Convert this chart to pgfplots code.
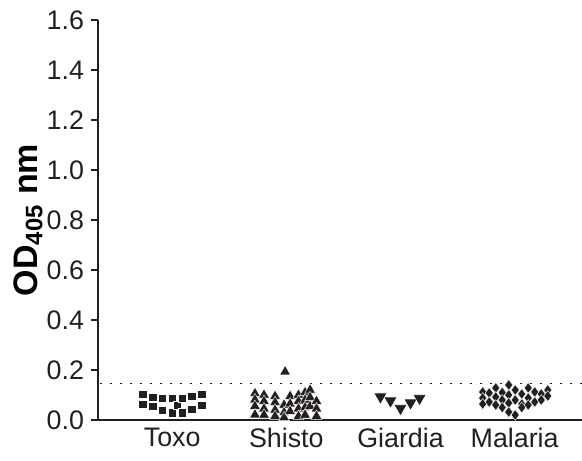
\documentclass[border=0pt]{standalone}
\usepackage{pgfplots}
\pgfplotsset{compat=1.18}
\usepackage{fontspec}
\setmainfont{Liberation Sans}
\definecolor{ink}{HTML}{231F20}

\pgfplotstableread{
x y
0.74 0.104
0.74 0.064
0.83 0.092
0.83 0.056
0.914 0.088
0.914 0.040
1.0 0.088
1.0 0.030
1.043 0.060
1.086 0.088
1.086 0.030
1.17 0.096
1.17 0.044
1.26 0.104
1.26 0.060
}\toxo

\pgfplotstableread{
x y
1.725 0.106
1.725 0.081
1.725 0.055
1.725 0.021
1.804 0.100
1.804 0.075
1.804 0.045
1.804 0.020
1.901 0.095
1.901 0.070
1.901 0.040
1.901 0.015
1.980 0.060
1.980 0.030
1.980 0.010
2.033 0.095
2.033 0.065
2.033 0.035
2.106 0.100
2.106 0.075
2.106 0.045
2.106 0.015
2.164 0.110
2.164 0.080
2.164 0.050
2.164 0.020
2.208 0.120
2.208 0.090
2.208 0.055
2.264 0.075
2.264 0.045
2.264 0.015
1.989 0.193
}\shisto

\pgfplotstableread{
x y
2.824 0.093
2.912 0.077
3.000 0.047
3.088 0.069
3.167 0.087
}\giardia

\pgfplotstableread{
x y
3.720 0.112
3.720 0.088
3.720 0.064
3.777 0.108
3.777 0.072
3.834 0.128
3.834 0.092
3.834 0.060
3.891 0.110
3.891 0.080
3.891 0.050
3.948 0.140
3.948 0.100
3.948 0.068
3.948 0.032
4.005 0.120
4.005 0.080
4.005 0.020
4.062 0.104
4.062 0.064
4.062 0.050
4.119 0.128
4.119 0.088
4.119 0.060
4.176 0.112
4.176 0.072
4.233 0.104
4.233 0.080
4.290 0.120
4.290 0.096
}\malaria

\begin{document}
\begin{tikzpicture}
\path[use as bounding box] (-49pt,-20pt) rectangle (242pt,210pt);
\begin{axis}[
  at={(0,0)}, anchor=south west,
  scale only axis, width=242pt, height=200pt,
  xmin=0.35, xmax=4.59, ymin=0, ymax=1.6,
  axis x line=bottom, axis y line=left,
  axis line style={-, line width=1pt, ink},
  xtick={1,2,3,4}, xticklabels={Toxo,Shisto,Giardia,Malaria},
  x tick style={draw=none},
  ytick={0,0.2,0.4,0.6,0.8,1.0,1.2,1.4,1.6},
  y tick style={line width=0.8pt, ink},
  tick align=outside, major tick length=3.5pt,
  yticklabel style={/pgf/number format/fixed, /pgf/number format/fixed zerofill, /pgf/number format/precision=1},
  /pgf/number format/assume math mode=true,
  tick label style={font=\fontsize{13.4}{15}\selectfont, text=ink},
  xticklabel style={yshift=3pt},
  every axis y label/.style={at={(axis description cs:0,0.5)}, xshift=-35pt, rotate=90, anchor=center},
  ylabel={\fontsize{17}{20}\selectfont\bfseries OD\textsubscript{405} nm},
  clip=false,
]
\addplot[ink, line width=0.8pt, dash pattern=on 0.8pt off 4.2pt] coordinates {(0.37,0.146) (4.59,0.146)};
\addplot[only marks, mark=square*, mark size=2.1pt, ink, mark options={fill=ink, draw=white, line width=0.2pt}] table {\toxo};
\addplot[only marks, mark=triangle*, mark size=3.1pt, ink, mark options={fill=ink, draw=white, line width=0.2pt}] table {\shisto};
\addplot[only marks, mark=triangle*, mark size=3.0pt, ink, mark options={rotate=180, fill=ink, draw=ink}] table {\giardia};
\addplot[only marks, mark=diamond*, mark size=2.7pt, ink, mark options={fill=ink, draw=white, line width=0.2pt}] table {\malaria};
\end{axis}
\end{tikzpicture}
\end{document}
